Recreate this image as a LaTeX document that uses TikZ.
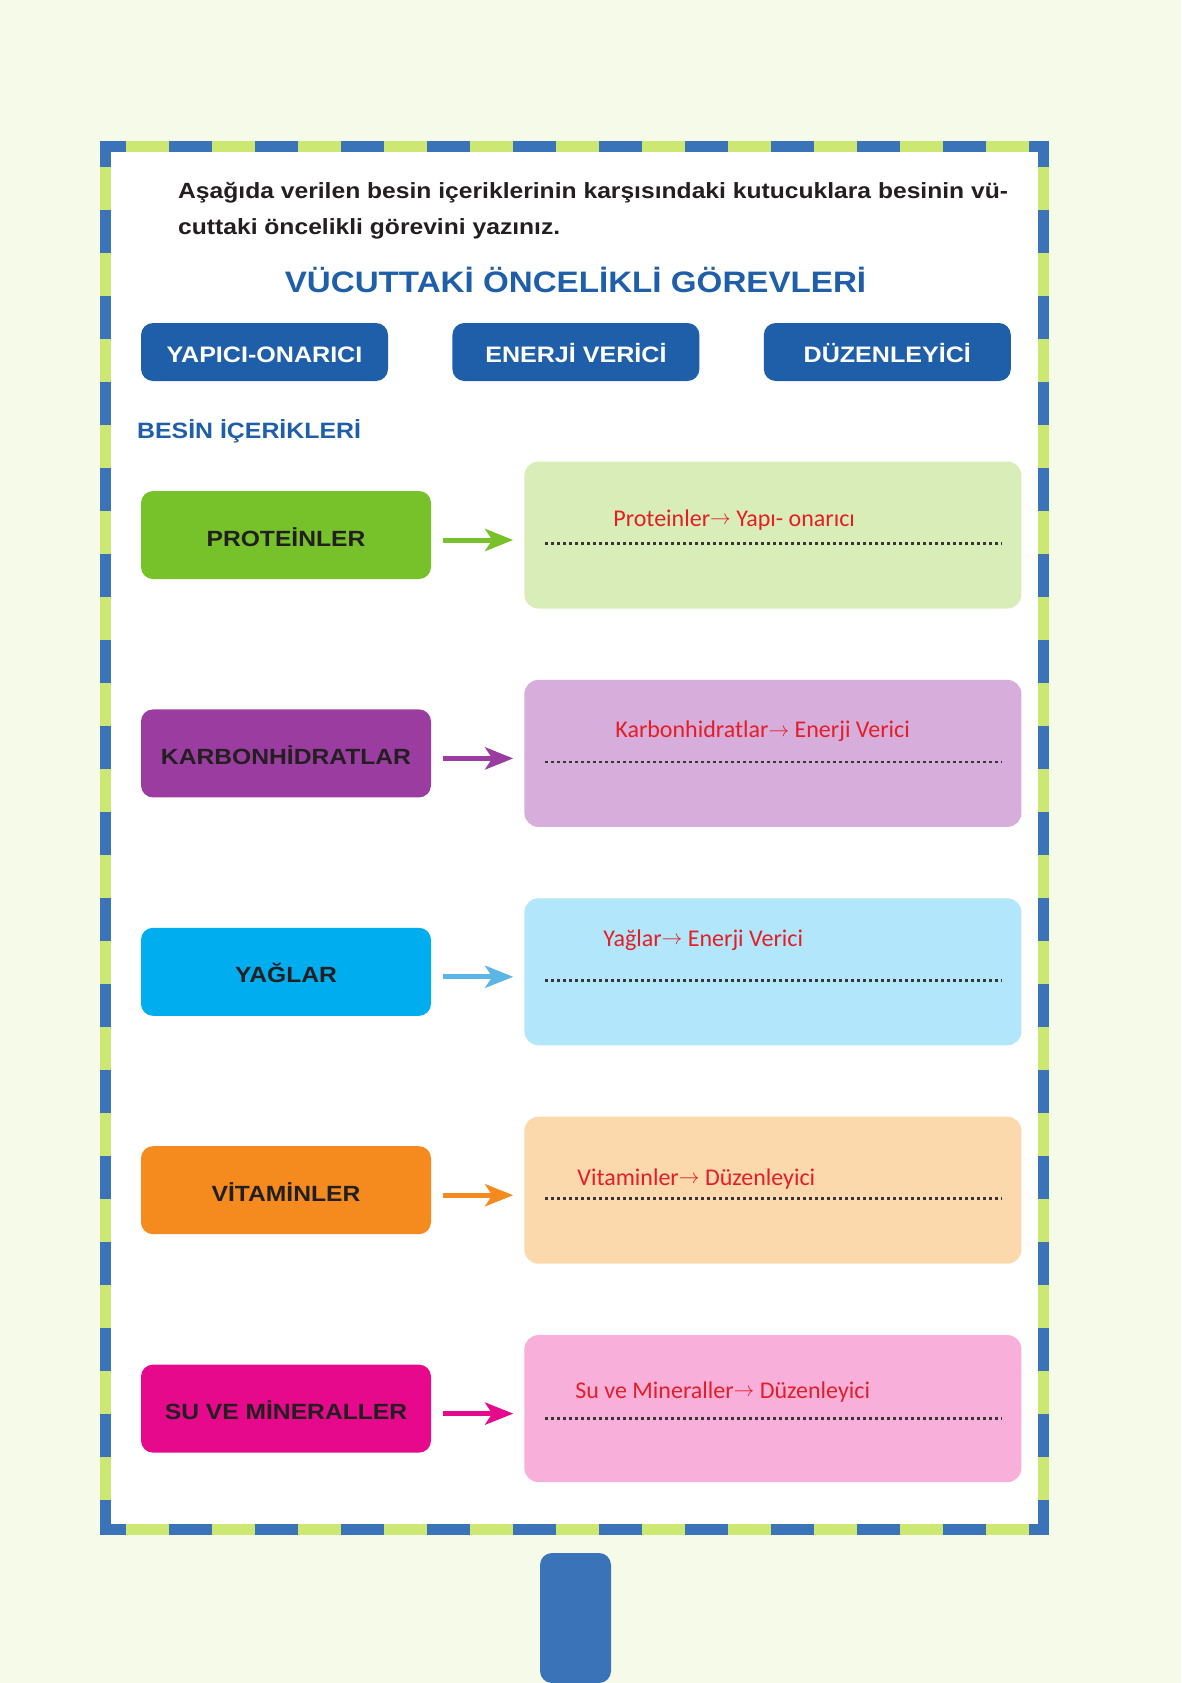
\documentclass[tikz,border=0pt]{standalone}
\usepackage{fontspec}
\setmainfont{Liberation Sans}[FakeStretch=1.12]
\newfontfamily\answerfont{Carlito}
\usepackage{xcolor}
\usetikzlibrary{arrows.meta, positioning}

\definecolor{pagebg}{HTML}{F6FAE8}
\definecolor{framblue}{HTML}{3A73B8}
\definecolor{framgreen}{HTML}{CDE872}
\definecolor{roleblue}{HTML}{1F5FA9}
\definecolor{inkdark}{HTML}{231F20}
\definecolor{replyred}{HTML}{E31E26}
\definecolor{dotgray}{HTML}{363636}
\definecolor{protdark}{HTML}{77C12B}
\definecolor{protlight}{HTML}{D8EDB8}
\definecolor{carbdark}{HTML}{9B3DA0}
\definecolor{carblight}{HTML}{D7ADDB}
\definecolor{fatdark}{HTML}{00AEEF}
\definecolor{fatlight}{HTML}{B2E6FA}
\definecolor{fatarrow}{HTML}{5BB5E5}
\definecolor{vitdark}{HTML}{F58B1F}
\definecolor{vitlight}{HTML}{FCD8AD}
\definecolor{waterdark}{HTML}{E6098B}
\definecolor{waterlight}{HTML}{F8AFD9}

\newcommand{\givesarrow}{\raisebox{1.8pt}{\fontsize{20}{22}\selectfont$\rightarrow$}}

\begin{document}
\begin{tikzpicture}[x=1pt, y=-1pt,
    roletag/.style={fill=roleblue, rounded corners=12pt, minimum width=247pt, minimum height=58pt, inner sep=0pt, text height=20pt, text depth=0pt, text=white, font=\fontsize{22.4}{26}\selectfont\bfseries},
    nutrient/.style={rounded corners=12pt, minimum width=290pt, minimum height=88pt, inner sep=0pt, text height=22pt, text depth=0pt, text=inkdark, font=\fontsize{22}{26}\selectfont\bfseries},
    answerbox/.style={rounded corners=14pt, minimum width=497pt, minimum height=147pt, inner sep=0pt},
    feed/.style={line width=5pt, -{Stealth[length=28pt, width=22pt, inset=7pt]}, shorten <=12pt, shorten >=11pt},
    dotrow/.style={draw=dotgray, line width=2.8pt, dash pattern=on 2.8pt off 3.2pt},
    reply/.style={anchor=base west, inner sep=0pt, text=replyred, font=\answerfont\fontsize{24}{28}\selectfont},
    edgegreen/.style={draw=framgreen, line width=11pt},
    edgeblue/.style={draw=framblue, line width=11pt, dash pattern=on 43pt off 43pt, dash phase=17pt}]

    % page and frame
    \fill[pagebg] (0,0) rectangle (1181,1683);
    \useasboundingbox (0,0) rectangle (1181,1683);
    \fill[white] (100,141) rectangle (1048,1535);
    \draw[edgegreen] (100,146.5) -- (1048,146.5);
    \draw[edgegreen] (100,1529.5) -- (1048,1529.5);
    \draw[edgegreen] (105.5,141) -- (105.5,1535);
    \draw[edgegreen] (1043,141) -- (1043,1535);
    \draw[edgeblue] (100,146.5) -- (1048,146.5);
    \draw[edgeblue] (100,1529.5) -- (1048,1529.5);
    \draw[edgeblue] (105.5,141) -- (105.5,1535);
    \draw[edgeblue] (1043,141) -- (1043,1535);
    \fill[framblue, rounded corners=12pt] (540,1553) rectangle (611,1683);

    % instruction and headings
    \node[anchor=base west, inner sep=0pt, text=inkdark, font=\fontsize{22}{26}\selectfont\bfseries] (instrA) at (178,198) {Aşağıda verilen besin içeriklerinin karşısındaki kutucuklara besinin vü-};
    \node[anchor=base west, inner sep=0pt, text=inkdark, font=\fontsize{22}{26}\selectfont\bfseries] (instrB) at (178,234) {cuttaki öncelikli görevini yazınız.};
    \node[anchor=base, inner sep=0pt, text=roleblue, font=\fontsize{29.6}{33}\selectfont\bfseries] (title) at (575.5,292) {VÜCUTTAKİ ÖNCELİKLİ GÖREVLERİ};

    \node[roletag] (build) at (264.5,352) {YAPICI-ONARICI};
    \node[roletag, right=64pt of build] (energy) {ENERJİ VERİCİ};
    \node[roletag, right=64pt of energy] (regulate) {DÜZENLEYİCİ};

    \node[anchor=base west, inner sep=0pt, text=roleblue, font=\fontsize{22.2}{26}\selectfont\bfseries] (nutrients) at (137,438) {BESİN İÇERİKLERİ};

    % nutrients
    \node[nutrient, fill=protdark] (prot) at (286,535) {PROTEİNLER};
    \node[nutrient, fill=carbdark, below=130pt of prot] (carb) {KARBONHİDRATLAR};
    \node[nutrient, fill=fatdark, below=130pt of carb] (fat) {YAĞLAR};
    \node[nutrient, fill=vitdark, below=130pt of fat] (vit) {VİTAMİNLER};
    \node[nutrient, fill=waterdark, below=130pt of vit] (water) {SU VE MİNERALLER};

    % answer boxes
    \node[answerbox, fill=protlight, right=93pt of prot] (protans) {};
    \node[answerbox, fill=carblight, right=93pt of carb] (carbans) {};
    \node[answerbox, fill=fatlight, right=93pt of fat] (fatans) {};
    \node[answerbox, fill=vitlight, right=93pt of vit] (vitans) {};
    \node[answerbox, fill=waterlight, right=93pt of water] (waterans) {};

    % arrows
    \draw[feed, draw=protdark] ([yshift=-5pt]prot.east) -- ([yshift=-5pt]protans.west);
    \draw[feed, draw=carbdark] ([yshift=-5pt]carb.east) -- ([yshift=-5pt]carbans.west);
    \draw[feed, draw=fatarrow] ([yshift=-5pt]fat.east) -- ([yshift=-5pt]fatans.west);
    \draw[feed, draw=vitdark] ([yshift=-5pt]vit.east) -- ([yshift=-5pt]vitans.west);
    \draw[feed, draw=waterdark] ([yshift=-5pt]water.east) -- ([yshift=-5pt]waterans.west);

    % writing lines
    \draw[dotrow] ([xshift=21pt, yshift=-8.5pt]protans.west) -- ([xshift=-20pt, yshift=-8.5pt]protans.east);
    \draw[dotrow] ([xshift=21pt, yshift=-8.5pt]carbans.west) -- ([xshift=-20pt, yshift=-8.5pt]carbans.east);
    \draw[dotrow] ([xshift=21pt, yshift=-8.5pt]fatans.west) -- ([xshift=-20pt, yshift=-8.5pt]fatans.east);
    \draw[dotrow] ([xshift=21pt, yshift=-8.5pt]vitans.west) -- ([xshift=-20pt, yshift=-8.5pt]vitans.east);
    \draw[dotrow] ([xshift=21pt, yshift=-9.5pt]waterans.west) -- ([xshift=-20pt, yshift=-9.5pt]waterans.east);

    % written answers
    \node[reply] (protnote) at ([xshift=89pt, yshift=8.5pt]protans.west) {Proteinler\givesarrow{} Yapı- onarıcı};
    \node[reply] (carbnote) at ([xshift=91pt, yshift=15.5pt]carbans.west) {Karbonhidratlar\givesarrow{} Enerji Verici};
    \node[reply] (fatnote) at ([xshift=79pt, yshift=25.5pt]fatans.west) {Yağlar\givesarrow{} Enerji Verici};
    \node[reply] (vitnote) at ([xshift=53pt, yshift=4.5pt]vitans.west) {Vitaminler\givesarrow{} Düzenleyici};
    \node[reply] (waternote) at ([xshift=51pt, yshift=10pt]waterans.west) {Su ve Mineraller\givesarrow{} Düzenleyici};
\end{tikzpicture}
\end{document}
